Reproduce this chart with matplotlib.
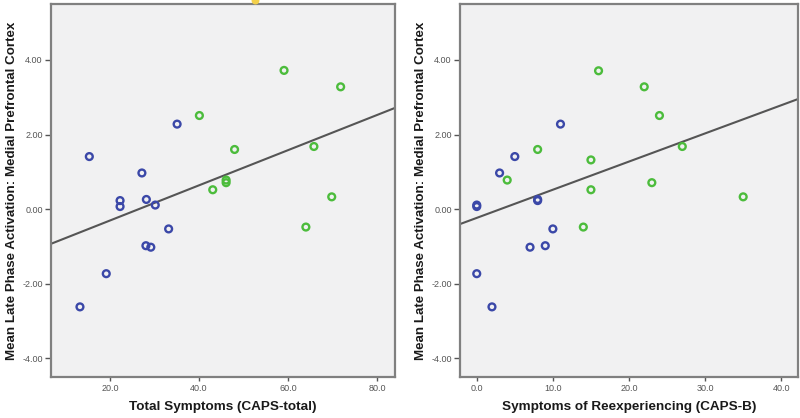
import matplotlib
matplotlib.use("Agg")
import matplotlib.pyplot as plt
import numpy as np

plt.rcParams['font.family'] = ['Liberation Sans', 'DejaVu Sans']

# Left panel: CAPS-total vs activation
caps_total_blue = [15.4, 35.1, 27.2, 22.3, 22.3, 28.2, 30.2, 33.2, 28.1, 29.2, 19.2, 13.3]
act_total_blue = [1.41, 2.28, 0.97, 0.23, 0.07, 0.26, 0.11, -0.53, -0.98, -1.02, -1.73, -2.62]
caps_total_green = [40.1, 59.1, 71.8, 48.0, 65.8, 46.1, 46.1, 43.1, 69.8, 64.0]
act_total_green = [2.51, 3.72, 3.28, 1.60, 1.68, 0.78, 0.71, 0.52, 0.33, -0.48]
outlier_x = [52.5]
outlier_y = [5.62]

# Right panel: CAPS-B vs activation
capsb_blue = [11.0, 5.0, 3.0, 8.0, 8.0, 0.0, 0.0, 10.0, 9.0, 7.0, 0.0, 2.0]
act_b_blue = [2.28, 1.41, 0.97, 0.26, 0.23, 0.11, 0.07, -0.53, -0.98, -1.02, -1.73, -2.62]
capsb_green = [16.0, 22.0, 24.0, 27.0, 8.0, 15.0, 4.0, 23.0, 15.0, 35.0, 14.0]
act_b_green = [3.71, 3.28, 2.51, 1.68, 1.60, 1.32, 0.78, 0.71, 0.52, 0.33, -0.48]

# Fit lines (intercept, slope)
fit_left = [-1.25, 0.0472]
fit_right = [-0.234, 0.0755]

yticks = [-4.0, -2.0, 0.0, 2.0, 4.0]
ytick_labels = ["-4.00", "-2.00", "0.00", "2.00", "4.00"]
xticks_left = [20.0, 40.0, 60.0, 80.0]
xticks_right = [0.0, 10.0, 20.0, 30.0, 40.0]

BLUE = "#3b48a8"
GREEN = "#4cbc3c"
SPINE = "#808080"
BG = "#f1f1f2"
YLABEL = "Mean Late Phase Activation: Medial Prefrontal Cortex"

fig = plt.figure(figsize=(8.0, 4.18), dpi=100)
ax1 = fig.add_axes([0.06375, 0.0981, 0.43, 0.8923])
ax2 = fig.add_axes([0.575, 0.0981, 0.4225, 0.8923])


def style(ax, xlim, xticks, xlabel):
    ax.set_facecolor(BG)
    ax.set_xlim(*xlim)
    ax.set_ylim(-4.5, 5.5)
    ax.set_yticks(yticks)
    ax.set_yticklabels(ytick_labels)
    ax.set_xticks(xticks)
    ax.set_xticklabels([f"{t:.1f}" for t in xticks])
    for s in ax.spines.values():
        s.set_color(SPINE)
        s.set_linewidth(1.6)
    ax.tick_params(axis='both', colors="#555555", labelsize=6.5, length=4, width=1.0,
                   direction='out', pad=2)
    ax.tick_params(axis='x', length=3)
    ax.set_xlabel(xlabel, fontsize=9.7, fontweight='bold', color="#1a1a1a", labelpad=6)
    ax.set_ylabel(YLABEL, fontsize=9.6, fontweight='bold', color="#1a1a1a", labelpad=3)


mk = dict(marker='o', s=24, facecolors='none', linewidths=1.7, zorder=3)

style(ax1, (6.8, 84.0), xticks_left, "Total Symptoms (CAPS-total)")
ax1.scatter(caps_total_blue, act_total_blue, edgecolors=BLUE, **mk)
ax1.scatter(caps_total_green, act_total_green, edgecolors=GREEN, **mk)
ax1.scatter(outlier_x, outlier_y, color="#f3d04a", s=22, clip_on=False, zorder=4)
xl = np.array(ax1.get_xlim())
ax1.plot(xl, fit_left[0] + fit_left[1] * xl, color="#555555", lw=1.5, zorder=2)

style(ax2, (-2.2, 42.2), xticks_right, "Symptoms of Reexperiencing (CAPS-B)")
ax2.scatter(capsb_blue, act_b_blue, edgecolors=BLUE, **mk)
ax2.scatter(capsb_green, act_b_green, edgecolors=GREEN, **mk)
xr = np.array(ax2.get_xlim())
ax2.plot(xr, fit_right[0] + fit_right[1] * xr, color="#555555", lw=1.5, zorder=2)

fig.savefig("out.png", dpi=100, facecolor="white")
